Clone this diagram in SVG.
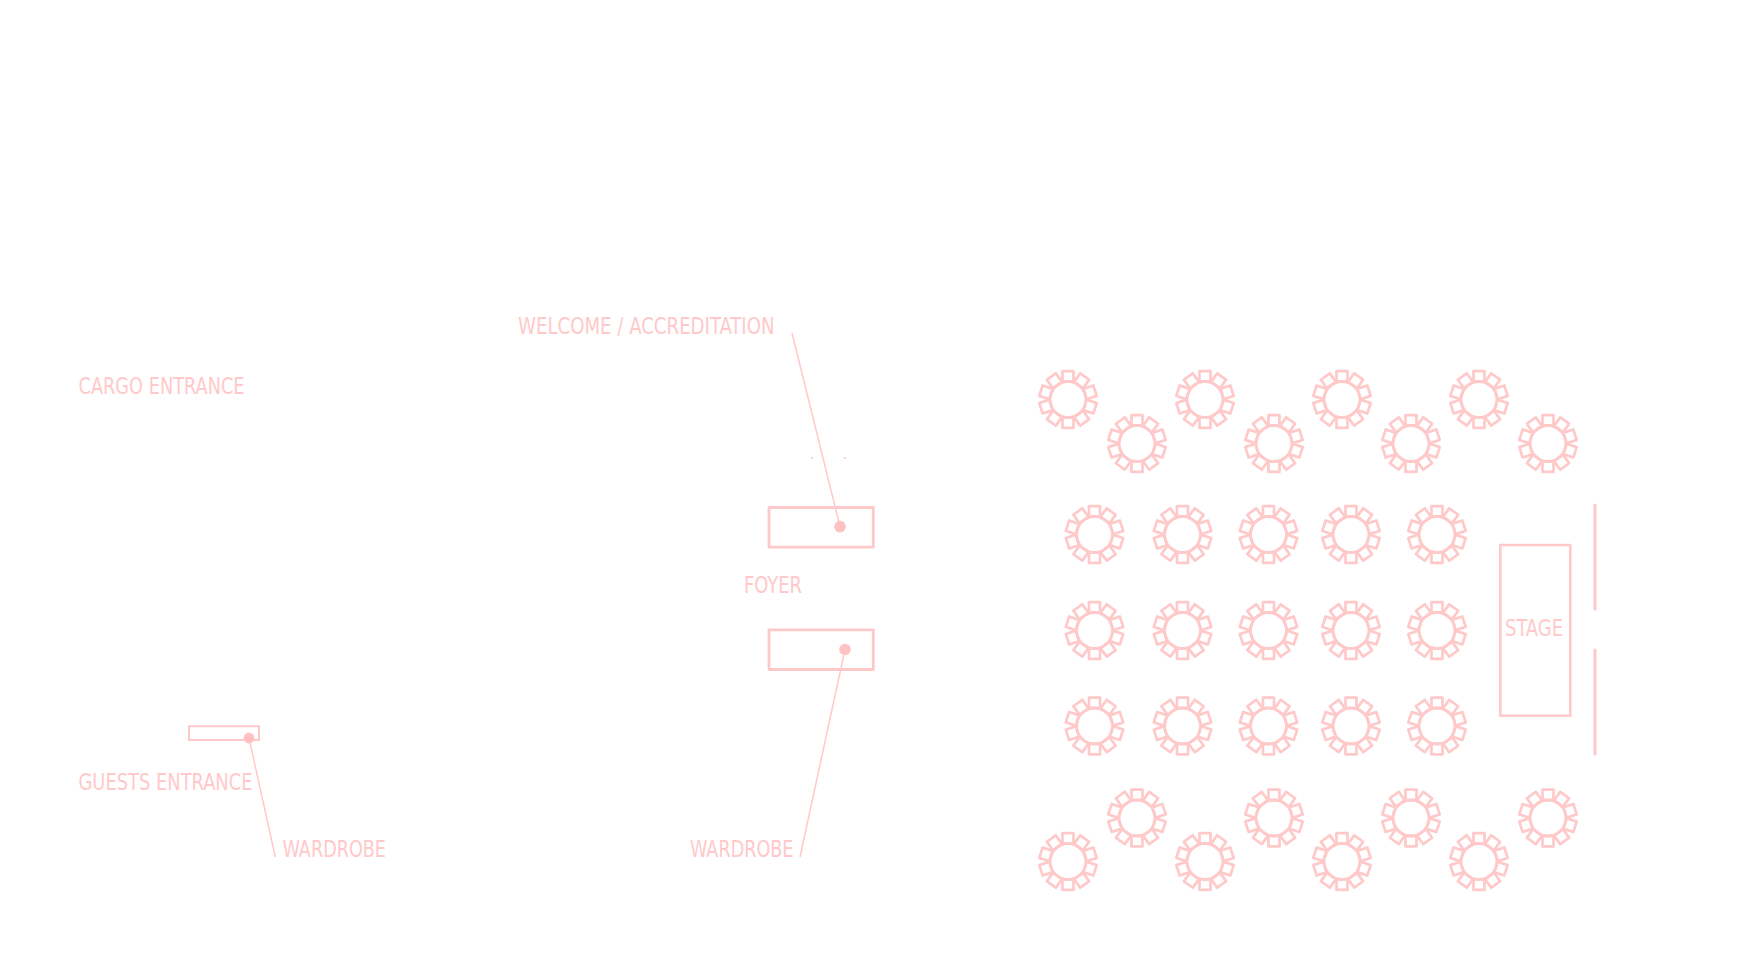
<svg xmlns="http://www.w3.org/2000/svg" width="1754" height="975" viewBox="0 0 1754 975">
<style>
.s{fill:none;stroke:#ffc9c9;stroke-linejoin:round;stroke-linecap:round}
.t{fill:#ffc9c9;font-family:"DejaVu Sans",sans-serif;font-stretch:condensed;font-size:22.500px}
.d{fill:#ffc1c1}
.c{stroke:#ffc9c9;stroke-width:1.5;fill:none}
</style>
<defs>
<rect id="ch" class="s" stroke-width="2.700" x="-5.500" y="-28.400" width="11" height="10.600"/>
<g id="table">
<circle class="s" stroke-width="2.800" r="18"/>
<use href="#ch"/><use href="#ch" transform="rotate(36)"/><use href="#ch" transform="rotate(72)"/><use href="#ch" transform="rotate(108)"/><use href="#ch" transform="rotate(144)"/><use href="#ch" transform="rotate(180)"/><use href="#ch" transform="rotate(216)"/><use href="#ch" transform="rotate(252)"/><use href="#ch" transform="rotate(288)"/><use href="#ch" transform="rotate(324)"/>
</g>
</defs>
<rect width="1754" height="975" fill="#fff"/>
<g id="connectors">
<line class="c" x1="792" y1="333" x2="840" y2="526.600"/>
<line class="c" x1="845" y1="649.500" x2="800" y2="857"/>
<line class="c" x1="249" y1="738" x2="275.300" y2="857"/>
</g>
<g id="label-cargo"><text class="t" x="78.500" y="394" textLength="166" lengthAdjust="spacingAndGlyphs">CARGO ENTRANCE</text></g>
<g id="label-guests"><text class="t" x="78.500" y="790" textLength="174" lengthAdjust="spacingAndGlyphs">GUESTS ENTRANCE</text></g>
<g id="label-welcome"><text class="t" x="518" y="334" textLength="256.500" lengthAdjust="spacingAndGlyphs">WELCOME / ACCREDITATION</text></g>
<g id="label-foyer"><text class="t" x="744" y="593" textLength="58" lengthAdjust="spacingAndGlyphs">FOYER</text></g>
<g id="label-wardrobe-1"><text class="t" x="282.500" y="856.500" textLength="103.500" lengthAdjust="spacingAndGlyphs">WARDROBE</text></g>
<g id="label-wardrobe-2"><text class="t" x="690" y="856.500" textLength="103.500" lengthAdjust="spacingAndGlyphs">WARDROBE</text></g>
<g id="guests-desk"><rect class="s" stroke-width="2" x="189" y="726.300" width="70" height="13.700"/><circle class="d" cx="249" cy="738" r="5.400"/></g>
<g id="welcome-desk"><rect class="s" stroke-width="2.800" x="769" y="507.500" width="104.300" height="39.700"/><circle class="d" cx="840" cy="526.600" r="5.800"/></g>
<g id="wardrobe-desk"><rect class="s" stroke-width="2.800" x="769" y="629.800" width="104.300" height="39.700"/><circle class="d" cx="845" cy="649.500" r="5.800"/></g>
<g id="marks"><circle class="d" cx="812" cy="458" r="1"/><circle class="d" cx="845" cy="458" r="1"/></g>
<g id="stage"><rect class="s" stroke-width="2.600" x="1500.300" y="545" width="70" height="170.700"/><text class="t" x="1505" y="636" textLength="58" lengthAdjust="spacingAndGlyphs">STAGE</text></g>
<g id="screens"><line class="s" stroke-width="3.200" x1="1595" y1="505" x2="1595" y2="609"/><line class="s" stroke-width="3.200" x1="1595" y1="650" x2="1595" y2="754"/></g>
<g id="tables-top">
<g id="t1"><use href="#table" x="1068" y="399.500"/></g>
<g id="t2"><use href="#table" x="1205" y="399.500"/></g>
<g id="t3"><use href="#table" x="1342" y="399.500"/></g>
<g id="t4"><use href="#table" x="1479" y="399.500"/></g>
<g id="t5"><use href="#table" x="1137" y="443.500"/></g>
<g id="t6"><use href="#table" x="1274" y="443.500"/></g>
<g id="t7"><use href="#table" x="1411" y="443.500"/></g>
<g id="t8"><use href="#table" x="1548" y="443.500"/></g>
</g>
<g id="tables-grid">
<g id="t9"><use href="#table" x="1094.500" y="534.500"/></g>
<g id="t10"><use href="#table" x="1182.500" y="534.500"/></g>
<g id="t11"><use href="#table" x="1268.500" y="534.500"/></g>
<g id="t12"><use href="#table" x="1351" y="534.500"/></g>
<g id="t13"><use href="#table" x="1437" y="534.500"/></g>
<g id="t14"><use href="#table" x="1094.500" y="630.500"/></g>
<g id="t15"><use href="#table" x="1182.500" y="630.500"/></g>
<g id="t16"><use href="#table" x="1268.500" y="630.500"/></g>
<g id="t17"><use href="#table" x="1351" y="630.500"/></g>
<g id="t18"><use href="#table" x="1437" y="630.500"/></g>
<g id="t19"><use href="#table" x="1094.500" y="726"/></g>
<g id="t20"><use href="#table" x="1182.500" y="726"/></g>
<g id="t21"><use href="#table" x="1268.500" y="726"/></g>
<g id="t22"><use href="#table" x="1351" y="726"/></g>
<g id="t23"><use href="#table" x="1437" y="726"/></g>
</g>
<g id="tables-bottom">
<g id="t24"><use href="#table" x="1137" y="818"/></g>
<g id="t25"><use href="#table" x="1274" y="818"/></g>
<g id="t26"><use href="#table" x="1411" y="818"/></g>
<g id="t27"><use href="#table" x="1548" y="818"/></g>
<g id="t28"><use href="#table" x="1068" y="861.500"/></g>
<g id="t29"><use href="#table" x="1205" y="861.500"/></g>
<g id="t30"><use href="#table" x="1342" y="861.500"/></g>
<g id="t31"><use href="#table" x="1479" y="861.500"/></g>
</g>
</svg>
